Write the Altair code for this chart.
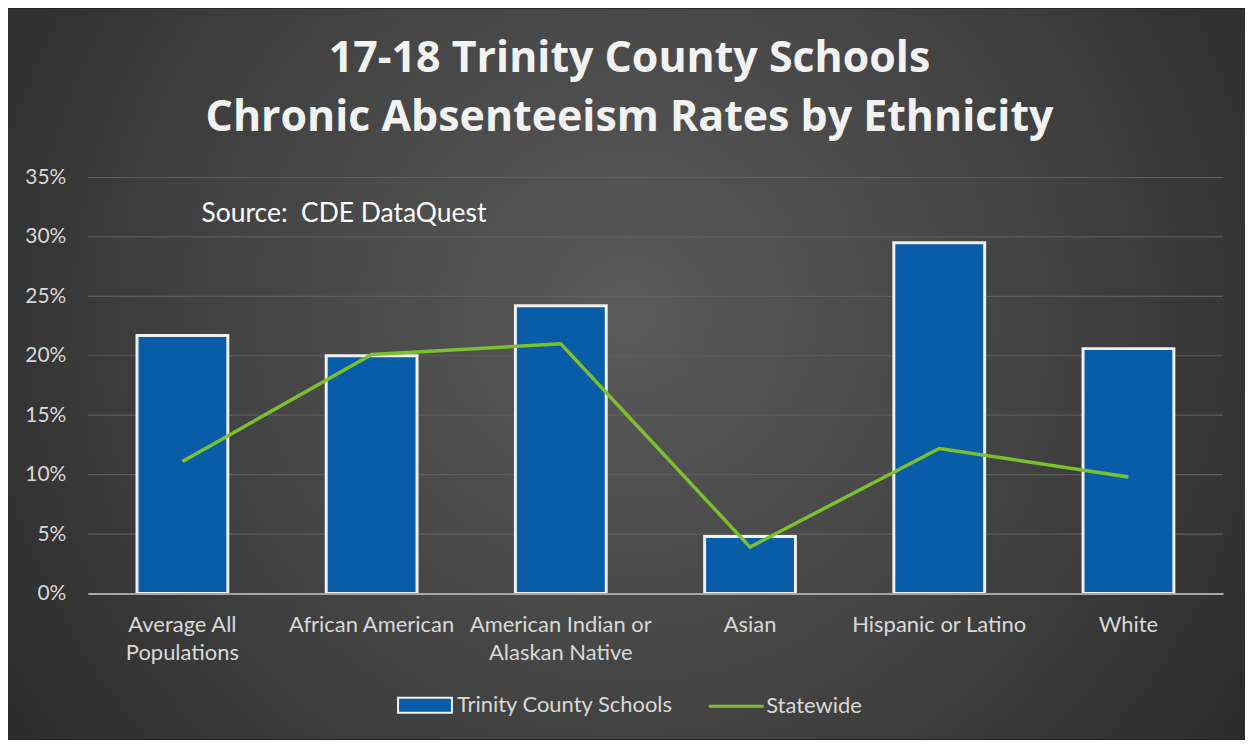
import altair as alt
import pandas as pd

categories = ["Average All Populations", "African American",
              "American Indian or Alaskan Native", "Asian",
              "Hispanic or Latino", "White"]
trinity = [0.217, 0.200, 0.242, 0.048, 0.295, 0.206]
statewide = [0.111, 0.201, 0.210, 0.039, 0.122, 0.098]
y_ticks = [0, 0.05, 0.10, 0.15, 0.20, 0.25, 0.30, 0.35]

df = pd.DataFrame({"cat": categories, "trinity": trinity, "statewide": statewide})
grid_df = pd.DataFrame({"v": y_ticks[1:]})

FONT = "Lato"
W, H = 1138, 417
PAD = {"left": 80, "top": 169, "right": 22, "bottom": 146}

label_expr = ("datum.label == 'Average All Populations' ? ['Average All', 'Populations'] : "
              "datum.label == 'American Indian or Alaskan Native' ? ['American Indian or', 'Alaskan Native'] : datum.label")

x = alt.X("cat:N", sort=categories, title=None,
          scale=alt.Scale(paddingInner=0.52, paddingOuter=0.26),
          axis=alt.Axis(labelExpr=label_expr, labelAngle=0, labelFont=FONT, labelFontSize=22,
                        labelColor="#d9d9d9", labelPadding=21, ticks=False, grid=False, zindex=1,
                        labelLimit=400,
                        domainColor="#a6a6a6", domainWidth=2, labelLineHeight=28))
y_scale = alt.Scale(domain=[0, 0.35], nice=False)

bg = alt.Chart(pd.DataFrame({"a": [0]})).mark_rect(
    color=alt.Gradient(gradient="radial", x1=0.5, y1=0.45, r1=0, x2=0.5, y2=0.45, r2=0.75,
                       stops=[alt.GradientStop(color="#5a5a5a", offset=0),
                              alt.GradientStop(color="#424242", offset=0.45),
                              alt.GradientStop(color="#1f1f1f", offset=1)])
).encode(x=alt.value(-PAD["left"]), x2=alt.value(W + PAD["right"]),
         y=alt.value(-PAD["top"]), y2=alt.value(H + PAD["bottom"]))

grid = alt.Chart(grid_df).mark_rule(color="#5e5e5e", strokeWidth=1.2).encode(
    y=alt.Y("v:Q", scale=y_scale)
)

bars = alt.Chart(df).mark_bar(stroke="#f0f0f0", strokeWidth=3).encode(
    x=x,
    y=alt.Y("trinity:Q", scale=y_scale, title=None,
            axis=alt.Axis(values=y_ticks, format=".0%", labelFont=FONT, labelFontSize=21,
                          labelColor="#d9d9d9", labelPadding=22, ticks=False, domain=False,
                          grid=False, zindex=1)),
    color=alt.Color("s:N", scale=alt.Scale(domain=["Trinity County Schools"], range=["#085ca8"]),
                    legend=alt.Legend(title=None, orient="none", legendX=319, legendY=510,
                                      symbolType="M-1.5,-0.42H1.5V0.42H-1.5Z", symbolSize=1296,
                                      symbolStrokeColor="#f0f0f0", symbolStrokeWidth=2,
                                      symbolOpacity=1, labelFont=FONT, labelFontSize=22,
                                      labelColor="#d9d9d9", labelOffset=13, labelLimit=400))
).transform_calculate(s="'Trinity County Schools'")

line = alt.Chart(df).mark_line(strokeWidth=3.5).encode(
    x=alt.X("cat:N", sort=categories),
    y=alt.Y("statewide:Q", scale=y_scale),
    stroke=alt.Stroke("s:N", scale=alt.Scale(domain=["Statewide"], range=["#7cc02f"]),
                      legend=alt.Legend(title=None, orient="none", legendX=621, legendY=501,
                                        symbolType="stroke", symbolSize=3025, symbolStrokeWidth=3,
                                        labelFont=FONT, labelFontSize=22, labelColor="#d9d9d9",
                                        labelOffset=1, labelLimit=400))
).transform_calculate(s="'Statewide'")

source = alt.Chart(pd.DataFrame({"t": ["Source:\u00a0 CDE DataQuest"]})).mark_text(
    font=FONT, fontSize=26.5, color="#ffffff", align="left", baseline="middle"
).encode(text="t:N", x=alt.value(114), y=alt.value(37))

chart = alt.layer(bg, grid, bars, line, source).resolve_scale(color="independent", stroke="independent").properties(
    width=W, height=H,
    padding=PAD,
    autosize=alt.AutoSizeParams(type="none"),
    background="#262626",
    title=alt.TitleParams(
        text=["17-18 Trinity County Schools", "Chronic Absenteeism Rates by Ethnicity"],
        font="Open Sans", fontSize=43, fontWeight="bold", color="#f2f2f2", lineHeight=59,
        anchor="middle", frame="group", offset=-131, dx=-26, zindex=1)
).configure_view(stroke=None)

chart.save("out.html", embed_options={"renderer": "svg", "actions": False})
